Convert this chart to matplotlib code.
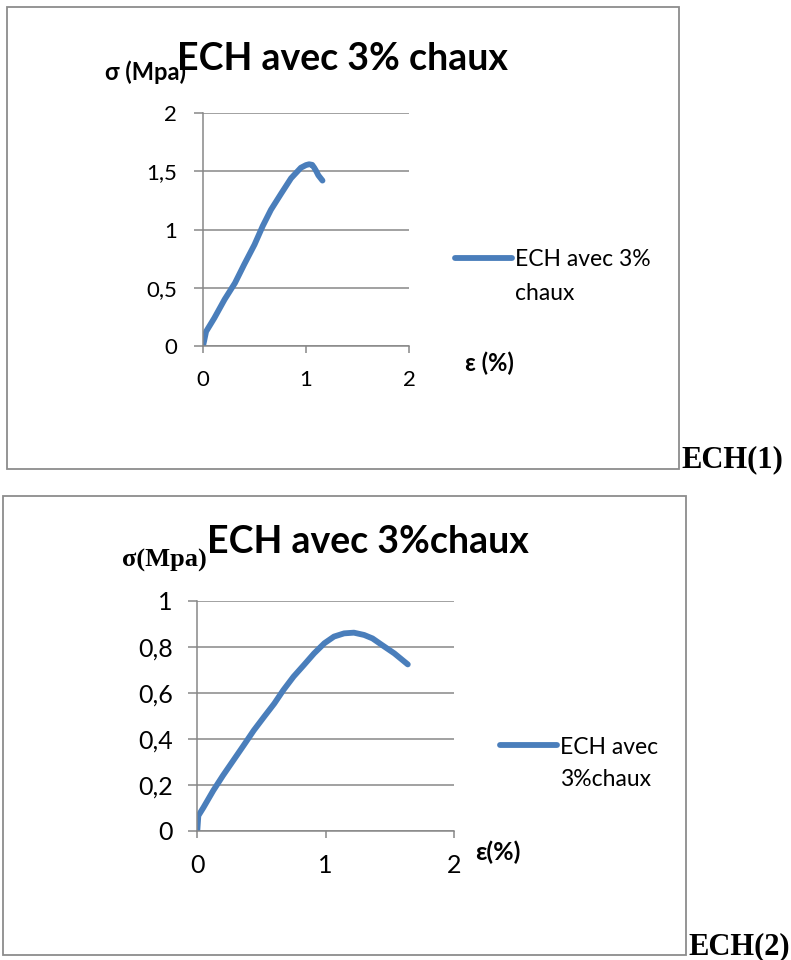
import matplotlib
matplotlib.use("Agg")
import matplotlib.pyplot as plt
from matplotlib.patches import Rectangle

# courbe contrainte-deformation, ECH(1)
eps1 = [0, 0.01, 0.03, 0.11, 0.21, 0.31, 0.40, 0.50, 0.58, 0.66, 0.76, 0.855,
        0.95, 1.00, 1.03, 1.06, 1.08, 1.10, 1.12, 1.16]
sig1 = [0.0, 0.04, 0.124, 0.24, 0.40, 0.54, 0.70, 0.87, 1.03, 1.17, 1.31, 1.44,
        1.53, 1.553, 1.56, 1.555, 1.53, 1.50, 1.465, 1.42]

# ECH(2)
eps2 = [0, 0.008, 0.047, 0.125, 0.2, 0.28, 0.36, 0.44, 0.52, 0.60, 0.67, 0.75,
        0.83, 0.91, 0.99, 1.065, 1.144, 1.22, 1.30, 1.365, 1.44, 1.535, 1.64]
sig2 = [0.0, 0.065, 0.10, 0.175, 0.24, 0.305, 0.37, 0.436, 0.495, 0.553, 0.611,
        0.67, 0.72, 0.771, 0.815, 0.844, 0.858, 0.861, 0.851, 0.836, 0.807,
        0.771, 0.723]

yticks1 = [0, 0.5, 1, 1.5, 2]
yticks2 = [0, 0.2, 0.4, 0.6, 0.8, 1]
xticks = [0, 1, 2]

W, H = 791, 960
BLUE = '#4a7ebb'
GRID = '#878787'
SANS = 'Lato'
SERIF = 'Liberation Serif'


def fx(p):
    return p / W


def fy(p):
    return 1 - p / H


def lab(v):
    return ('%g' % v).replace('.', ',')


def panel(fig, box, rect, x, y, yticks, tick_fs, ypad, title, tpos, ylab,
          ylab_font, ylab_pos, leg1, leg2, leg_pos, xlab, xlab_pos, tag, tag_pos):
    bx0, by0, bx1, by1 = box
    fig.patches.append(Rectangle((fx(bx0), fy(by1)), (bx1 - bx0) / W, (by1 - by0) / H,
                                 transform=fig.transFigure, fill=False,
                                 edgecolor='#8c8c8c', lw=1.3))
    l, t, r, b = rect
    ax = fig.add_axes([fx(l), fy(b), (r - l) / W, (b - t) / H])
    ln, = ax.plot(x, y, color=BLUE, lw=4.2, solid_capstyle='round',
                  solid_joinstyle='round')
    ax.set_xlim(0, 2)
    ax.set_ylim(yticks[0], yticks[-1])
    ax.set_xticks(xticks)
    ax.set_yticks(yticks)
    ax.set_xticklabels([lab(v) for v in xticks])
    ax.set_yticklabels([lab(v) for v in yticks])
    ax.grid(axis='y', color=GRID, lw=1.1)
    ax.set_axisbelow(True)
    for s in ['top', 'right']:
        ax.spines[s].set_visible(False)
    for s in ['left', 'bottom']:
        ax.spines[s].set_color(GRID)
        ax.spines[s].set_linewidth(1.1)
    ax.tick_params(axis='y', length=6.2, width=1.1, color=GRID, pad=ypad,
                   labelsize=tick_fs)
    ax.tick_params(axis='x', length=5, width=1.1, color=GRID, pad=12,
                   labelsize=tick_fs)
    for tl in ax.get_xticklabels() + ax.get_yticklabels():
        tl.set_fontfamily(SANS)

    fig.text(fx(tpos[0]), fy(tpos[1]), title, fontsize=27, fontweight='bold',
             family=SANS, va='baseline')
    fig.text(fx(ylab_pos[0]), fy(ylab_pos[1]), ylab, fontsize=ylab_font[1],
             fontweight='bold', family=ylab_font[0], va='baseline')
    leg = ax.legend([ln], [leg1], loc='center left', frameon=False,
                    bbox_to_anchor=(fx(leg_pos[0]), fy(leg_pos[1])),
                    bbox_transform=fig.transFigure, borderpad=0, borderaxespad=0,
                    handlelength=2.5, handletextpad=0.1,
                    prop={'family': SANS, 'size': 16.5})
    # second line of the legend label, aligned under the first one
    fig.canvas.draw()
    bb = leg.get_texts()[0].get_window_extent()
    fig.text(bb.x0 / W, fy(leg_pos[2]), leg2, fontsize=16.5, family=SANS,
             va='center')
    fig.text(fx(xlab_pos[0]), fy(xlab_pos[1]), xlab, fontsize=xlab_pos[2],
             fontweight='bold', family=SANS, va='center')
    fig.text(fx(tag_pos[0]), fy(tag_pos[1]), tag, fontsize=22,
             fontweight='bold', family=SERIF, va='baseline')
    return ax


fig = plt.figure(figsize=(W / 100, H / 100), dpi=100)

panel(fig, (7, 7, 679, 469), (203, 113, 409, 346), eps1, sig1, yticks1, 16, 12.5,
      'ECH avec 3% chaux', (177, 70), 'σ (Mpa)', (SANS, 17), (105, 80),
      'ECH avec 3%', 'chaux', (455, 260, 294), 'ε (%)', (465, 363, 17),
      'ECH(1)', (681, 467))

panel(fig, (3, 496, 686, 955), (197.3, 600.7, 454, 830.7), eps2, sig2, yticks2,
      18, 11.5,
      'ECH avec 3%chaux', (207, 553), 'σ(Mpa)', (SERIF, 19), (122, 567),
      'ECH avec', '3%chaux', (500, 747, 780), 'ε(%)', (475, 852, 18),
      'ECH(2)', (688, 954))

fig.savefig('out.png', dpi=100)
